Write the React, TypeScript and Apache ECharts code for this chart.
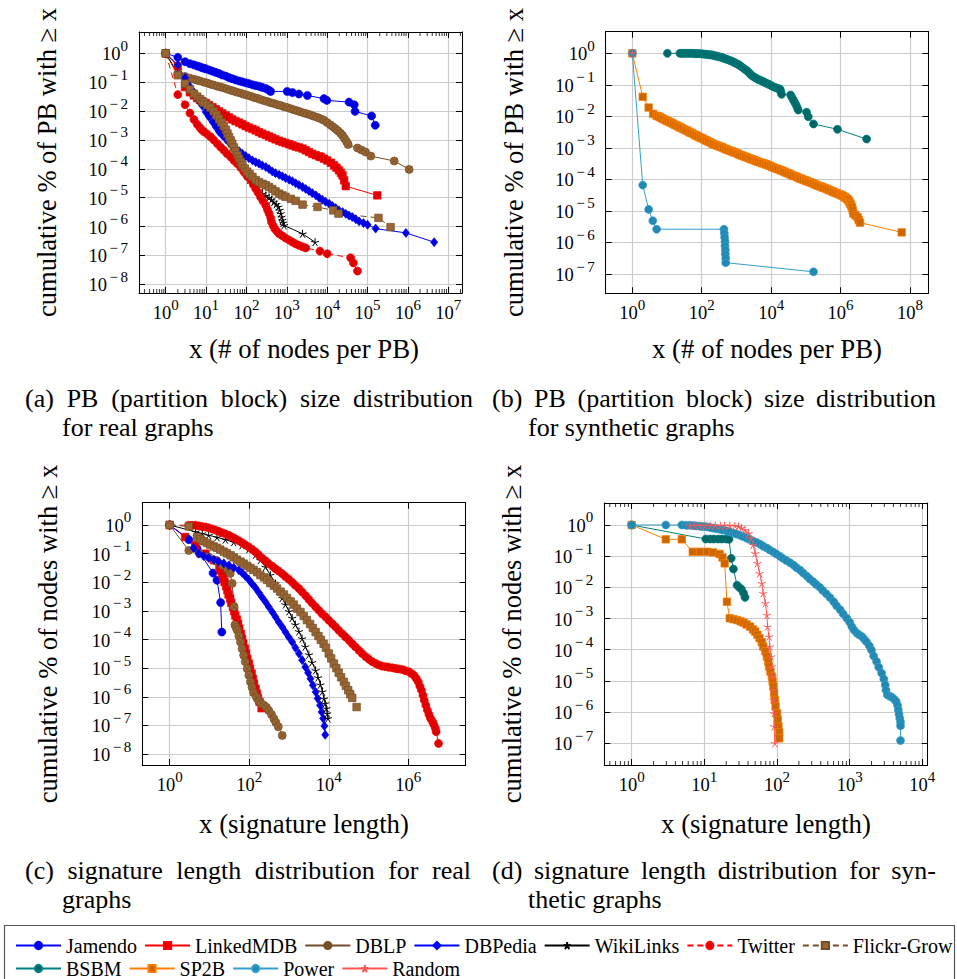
import React, { useEffect, useRef } from 'react';
import * as echarts from 'echarts';

// All points are [log10(x), log10(cumulative share)].

// ---- (a) PB size distribution, real graphs ----
const jamendoPB: number[][] = [[0,0],[0.30,-0.14],[0.48,-0.29],[0.60,-0.36],[0.70,-0.40],[0.78,-0.44],[0.85,-0.47],[0.90,-0.50],[0.95,-0.52],[1.00,-0.54],[1.08,-0.58],[1.16,-0.62],[1.24,-0.66],[1.32,-0.70],[1.40,-0.75],[1.49,-0.79],[1.57,-0.84],[1.65,-0.88],[1.73,-0.92],[1.82,-0.96],[1.90,-0.99],[1.98,-1.02],[2.06,-1.05],[2.15,-1.09],[2.23,-1.12],[2.31,-1.14],[2.39,-1.18],[2.48,-1.22],[2.55,-1.27],[2.60,-1.32],[3.01,-1.32],[3.14,-1.36],[3.30,-1.41],[3.51,-1.46],[3.92,-1.57],[3.99,-1.63],[4.54,-1.69],[4.67,-1.78],[4.69,-2.01],[5.10,-2.17],[5.19,-2.49]];
const linkedmdbPB: number[][] = [[0,0],[0.30,-0.45],[0.48,-1.17],[0.60,-1.35],[0.70,-1.46],[0.78,-1.55],[0.85,-1.61],[0.90,-1.66],[0.99,-1.72],[1.07,-1.79],[1.16,-1.87],[1.24,-1.94],[1.32,-2.01],[1.40,-2.08],[1.49,-2.15],[1.57,-2.22],[1.65,-2.29],[1.73,-2.35],[1.82,-2.40],[1.90,-2.46],[1.98,-2.52],[2.06,-2.57],[2.15,-2.62],[2.23,-2.67],[2.31,-2.73],[2.39,-2.78],[2.48,-2.83],[2.56,-2.88],[2.64,-2.93],[2.72,-2.98],[2.81,-3.03],[2.89,-3.07],[2.97,-3.11],[3.06,-3.15],[3.14,-3.19],[3.22,-3.23],[3.30,-3.26],[3.39,-3.30],[3.47,-3.36],[3.55,-3.42],[3.63,-3.48],[3.72,-3.53],[3.80,-3.57],[3.84,-3.59],[3.92,-3.65],[4.00,-3.71],[4.09,-3.79],[4.17,-3.88],[4.23,-3.96],[4.29,-4.05],[4.34,-4.14],[4.38,-4.23],[4.42,-4.40],[4.46,-4.60],[5.24,-4.92]];
const dblpPB: number[][] = [[0,0],[0.30,-0.74],[0.48,-0.80],[0.60,-0.86],[0.70,-0.90],[0.78,-0.93],[0.85,-0.96],[0.95,-1.00],[1.03,-1.03],[1.11,-1.07],[1.19,-1.10],[1.28,-1.14],[1.36,-1.17],[1.44,-1.20],[1.52,-1.24],[1.61,-1.28],[1.69,-1.31],[1.77,-1.35],[1.86,-1.38],[1.94,-1.42],[2.02,-1.45],[2.11,-1.49],[2.19,-1.53],[2.27,-1.56],[2.35,-1.60],[2.44,-1.64],[2.52,-1.67],[2.60,-1.71],[2.68,-1.74],[2.77,-1.78],[2.85,-1.81],[2.93,-1.85],[3.01,-1.88],[3.10,-1.92],[3.18,-1.96],[3.26,-1.99],[3.34,-2.03],[3.43,-2.07],[3.51,-2.10],[3.59,-2.14],[3.67,-2.18],[3.76,-2.22],[3.84,-2.27],[3.92,-2.32],[4.00,-2.40],[4.08,-2.48],[4.15,-2.55],[4.21,-2.62],[4.27,-2.69],[4.33,-2.77],[4.38,-2.85],[4.43,-2.95],[4.48,-3.06],[4.52,-3.16],[4.75,-3.28],[4.85,-3.35],[4.95,-3.42],[5.08,-3.56],[5.66,-3.73],[6.03,-4.02]];
const dbpediaPB: number[][] = [[0,0],[0.30,-0.40],[0.48,-0.85],[0.60,-1.15],[0.70,-1.35],[0.78,-1.55],[0.85,-1.70],[0.91,-1.82],[0.99,-2.03],[1.07,-2.20],[1.16,-2.38],[1.24,-2.55],[1.32,-2.72],[1.40,-2.84],[1.49,-2.97],[1.57,-3.09],[1.65,-3.19],[1.73,-3.29],[1.82,-3.39],[1.90,-3.48],[1.98,-3.56],[2.06,-3.63],[2.15,-3.71],[2.23,-3.77],[2.31,-3.82],[2.39,-3.88],[2.48,-3.94],[2.56,-4.01],[2.64,-4.09],[2.72,-4.15],[2.81,-4.21],[2.89,-4.26],[2.97,-4.32],[3.06,-4.38],[3.14,-4.43],[3.22,-4.50],[3.30,-4.56],[3.39,-4.63],[3.47,-4.70],[3.55,-4.77],[3.63,-4.84],[3.72,-4.92],[3.80,-5.00],[3.88,-5.07],[3.96,-5.14],[4.05,-5.21],[4.13,-5.29],[4.21,-5.36],[4.29,-5.44],[4.38,-5.50],[4.46,-5.56],[4.54,-5.62],[4.62,-5.67],[4.71,-5.75],[4.79,-5.82],[4.90,-5.88],[5.00,-5.94],[5.20,-6.07],[5.95,-6.22],[6.65,-6.54]];
const wikilinksPB: number[][] = [[0,0],[0.30,-0.70],[0.48,-1.05],[0.60,-1.25],[0.70,-1.40],[0.78,-1.52],[0.85,-1.62],[0.95,-1.76],[1.03,-1.85],[1.11,-1.95],[1.19,-2.07],[1.26,-2.20],[1.32,-2.33],[1.38,-2.46],[1.44,-2.60],[1.49,-2.73],[1.53,-2.86],[1.57,-2.98],[1.61,-3.10],[1.65,-3.22],[1.69,-3.35],[1.73,-3.48],[1.78,-3.62],[1.82,-3.75],[1.86,-3.88],[1.90,-4.00],[1.96,-4.12],[2.02,-4.25],[2.08,-4.38],[2.15,-4.50],[2.23,-4.63],[2.31,-4.75],[2.40,-4.86],[2.48,-4.93],[2.56,-5.00],[2.62,-5.07],[2.68,-5.15],[2.74,-5.23],[2.79,-5.32],[2.82,-5.43],[2.85,-5.55],[2.87,-5.67],[2.89,-5.78],[2.91,-5.87],[2.93,-5.96],[3.39,-6.25],[3.70,-6.54]];
const twitterPB: number[][] = [[0,0],[0.30,-1.43],[0.48,-1.78],[0.60,-2.07],[0.70,-2.29],[0.78,-2.46],[0.85,-2.58],[0.90,-2.66],[0.95,-2.72],[1.03,-2.80],[1.11,-2.89],[1.19,-3.00],[1.28,-3.13],[1.36,-3.25],[1.44,-3.36],[1.52,-3.48],[1.61,-3.59],[1.69,-3.71],[1.77,-3.82],[1.86,-3.96],[1.94,-4.11],[2.02,-4.26],[2.11,-4.40],[2.17,-4.54],[2.23,-4.69],[2.29,-4.83],[2.35,-4.98],[2.41,-5.12],[2.48,-5.27],[2.52,-5.41],[2.56,-5.55],[2.60,-5.70],[2.62,-5.84],[2.66,-5.96],[2.70,-6.07],[2.75,-6.16],[2.81,-6.25],[2.89,-6.32],[2.97,-6.40],[3.06,-6.47],[3.14,-6.54],[3.22,-6.60],[3.30,-6.65],[3.39,-6.70],[3.47,-6.74],[3.82,-6.85],[4.00,-6.94],[4.58,-7.08],[4.65,-7.26],[4.75,-7.54]];
const flickrPB: number[][] = [[0,0],[0.30,-0.76],[0.48,-1.05],[0.60,-1.25],[0.70,-1.40],[0.78,-1.50],[0.85,-1.59],[0.90,-1.66],[0.95,-1.71],[1.03,-1.79],[1.11,-1.88],[1.19,-2.00],[1.26,-2.13],[1.32,-2.26],[1.38,-2.39],[1.44,-2.52],[1.49,-2.65],[1.53,-2.78],[1.57,-2.90],[1.61,-3.02],[1.65,-3.13],[1.69,-3.26],[1.73,-3.39],[1.78,-3.53],[1.82,-3.65],[1.86,-3.77],[1.90,-3.88],[1.96,-3.99],[2.02,-4.10],[2.08,-4.19],[2.15,-4.28],[2.23,-4.39],[2.31,-4.46],[2.40,-4.52],[2.48,-4.57],[2.56,-4.63],[2.64,-4.70],[2.72,-4.78],[2.81,-4.86],[2.89,-4.92],[2.97,-4.97],[3.10,-5.04],[3.22,-5.11],[3.39,-5.24],[3.76,-5.32],[4.15,-5.44],[4.28,-5.55],[5.27,-5.70],[5.57,-6.02]];

// ---- (b) PB size distribution, synthetic graphs ----
const bsbmPB: number[][] = [[1.01,0],[1.37,0],[1.42,0],[1.47,0],[1.52,0],[1.57,0],[1.61,0],[1.66,0],[1.71,0],[1.76,0],[1.81,-0.01],[1.85,-0.01],[1.90,-0.01],[1.95,-0.01],[2.00,-0.02],[2.05,-0.02],[2.10,-0.03],[2.14,-0.03],[2.19,-0.04],[2.24,-0.05],[2.29,-0.05],[2.33,-0.06],[2.38,-0.08],[2.43,-0.09],[2.48,-0.10],[2.53,-0.12],[2.58,-0.13],[2.62,-0.15],[2.67,-0.17],[2.72,-0.19],[2.77,-0.21],[2.82,-0.23],[2.87,-0.25],[2.91,-0.28],[2.96,-0.30],[3.01,-0.33],[3.06,-0.36],[3.10,-0.39],[3.15,-0.43],[3.20,-0.47],[3.25,-0.51],[3.30,-0.55],[3.35,-0.60],[3.39,-0.65],[3.44,-0.70],[3.49,-0.74],[3.54,-0.77],[3.58,-0.80],[3.63,-0.83],[3.68,-0.85],[3.73,-0.88],[3.78,-0.90],[3.82,-0.93],[3.87,-0.95],[3.92,-0.98],[3.97,-1.00],[4.01,-1.03],[4.06,-1.06],[4.11,-1.08],[4.16,-1.10],[4.21,-1.12],[4.26,-1.14],[4.28,-1.22],[4.30,-1.30],[4.56,-1.32],[4.60,-1.40],[4.64,-1.48],[4.68,-1.56],[4.72,-1.64],[4.75,-1.72],[4.78,-1.80],[5.02,-1.87],[5.07,-2.01],[5.22,-2.24],[5.91,-2.41],[6.75,-2.72]];
const sp2bPB: number[][] = [[0,0],[0.30,-1.38],[0.47,-1.72],[0.60,-1.92],[0.70,-1.98],[0.75,-2.00],[0.80,-2.03],[0.85,-2.06],[0.89,-2.08],[0.94,-2.11],[0.99,-2.14],[1.04,-2.16],[1.09,-2.19],[1.14,-2.21],[1.18,-2.24],[1.23,-2.27],[1.28,-2.29],[1.33,-2.32],[1.37,-2.35],[1.42,-2.37],[1.47,-2.40],[1.52,-2.43],[1.57,-2.45],[1.62,-2.48],[1.66,-2.51],[1.71,-2.53],[1.76,-2.56],[1.81,-2.59],[1.85,-2.61],[1.90,-2.64],[1.95,-2.67],[2.00,-2.69],[2.05,-2.72],[2.10,-2.75],[2.14,-2.77],[2.19,-2.80],[2.24,-2.82],[2.29,-2.85],[2.33,-2.88],[2.38,-2.90],[2.43,-2.92],[2.48,-2.94],[2.53,-2.96],[2.58,-2.98],[2.62,-3.00],[2.67,-3.03],[2.72,-3.05],[2.77,-3.07],[2.82,-3.09],[2.87,-3.11],[2.91,-3.13],[2.96,-3.15],[3.01,-3.17],[3.06,-3.20],[3.10,-3.22],[3.15,-3.24],[3.20,-3.26],[3.25,-3.28],[3.30,-3.30],[3.35,-3.32],[3.39,-3.34],[3.44,-3.36],[3.49,-3.38],[3.54,-3.40],[3.58,-3.42],[3.63,-3.44],[3.68,-3.46],[3.73,-3.48],[3.78,-3.49],[3.83,-3.51],[3.87,-3.53],[3.92,-3.55],[3.97,-3.57],[4.02,-3.60],[4.06,-3.62],[4.11,-3.64],[4.16,-3.66],[4.21,-3.68],[4.26,-3.70],[4.31,-3.72],[4.35,-3.74],[4.40,-3.77],[4.45,-3.79],[4.50,-3.81],[4.54,-3.83],[4.59,-3.86],[4.64,-3.88],[4.69,-3.90],[4.74,-3.92],[4.79,-3.95],[4.83,-3.97],[4.88,-3.99],[4.93,-4.01],[4.98,-4.03],[5.02,-4.05],[5.07,-4.07],[5.12,-4.09],[5.17,-4.11],[5.22,-4.13],[5.27,-4.16],[5.31,-4.18],[5.36,-4.20],[5.41,-4.22],[5.46,-4.24],[5.50,-4.26],[5.55,-4.28],[5.60,-4.30],[5.65,-4.33],[5.70,-4.35],[5.75,-4.37],[5.79,-4.39],[5.84,-4.42],[5.89,-4.44],[5.94,-4.46],[5.99,-4.48],[6.03,-4.50],[6.06,-4.52],[6.10,-4.55],[6.13,-4.57],[6.17,-4.60],[6.20,-4.63],[6.23,-4.67],[6.25,-4.71],[6.27,-4.75],[6.29,-4.79],[6.31,-4.84],[6.33,-4.89],[6.35,-4.98],[6.37,-5.08],[6.43,-5.14],[6.49,-5.20],[6.52,-5.28],[6.56,-5.37],[7.76,-5.68]];
const powerPB: number[][] = [[0,0],[0.30,-4.18],[0.47,-4.95],[0.59,-5.31],[0.70,-5.58],[2.64,-5.58],[2.65,-5.71],[2.66,-5.84],[2.67,-5.97],[2.67,-6.11],[2.68,-6.24],[2.68,-6.37],[2.69,-6.50],[2.69,-6.64],[5.22,-6.93]];
const randomPB: number[][] = [[0,0]];

// ---- (c) signature length distribution, real graphs ----
const jamendoSig: number[][] = [[0,0],[0.48,-0.51],[0.69,-0.83],[1.09,-1.68],[1.19,-1.93],[1.28,-2.71],[1.31,-3.74]];
const linkedmdbSig: number[][] = [[0,0],[0.39,-0.42],[0.65,-0.71],[0.90,-1.00],[1.11,-1.23],[1.25,-1.47],[1.28,-1.58],[1.32,-1.70],[1.35,-1.85],[1.38,-1.99],[1.42,-2.14],[1.45,-2.28],[1.48,-2.43],[1.52,-2.57],[1.55,-2.72],[1.59,-2.86],[1.62,-3.01],[1.65,-3.16],[1.69,-3.30],[1.72,-3.45],[1.75,-3.62],[1.79,-3.80],[1.82,-3.97],[1.85,-4.14],[1.89,-4.32],[1.92,-4.49],[1.95,-4.67],[1.99,-4.84],[2.02,-5.02],[2.06,-5.19],[2.09,-5.37],[2.12,-5.54],[2.16,-5.72],[2.19,-5.89],[2.22,-6.04],[2.26,-6.18],[2.31,-6.40]];
const dblpSig: number[][] = [[0,0],[0.48,-0.89],[0.75,-1.00],[0.98,-1.12],[1.15,-1.25],[1.32,-1.41],[1.45,-1.55],[1.52,-1.69],[1.57,-2.04],[1.62,-2.86],[1.64,-3.49],[1.67,-3.58],[1.70,-3.68],[1.74,-3.88],[1.78,-4.09],[1.82,-4.32],[1.86,-4.55],[1.90,-4.78],[1.95,-5.02],[1.99,-5.25],[2.03,-5.48],[2.07,-5.67],[2.11,-5.86],[2.18,-6.01],[2.24,-6.16],[2.30,-6.24],[2.37,-6.30],[2.43,-6.37],[2.49,-6.48],[2.56,-6.62],[2.62,-6.77],[2.67,-6.90],[2.73,-7.05],[2.83,-7.35]];
const dbpediaSig: number[][] = [[0,0],[0.48,-0.50],[0.60,-0.80],[0.73,-1.00],[0.85,-1.08],[0.98,-1.15],[1.11,-1.21],[1.23,-1.27],[1.36,-1.34],[1.49,-1.41],[1.61,-1.49],[1.74,-1.58],[1.82,-1.67],[1.90,-1.78],[1.99,-1.91],[2.07,-2.05],[2.16,-2.20],[2.24,-2.36],[2.32,-2.52],[2.41,-2.69],[2.49,-2.86],[2.58,-3.04],[2.66,-3.21],[2.74,-3.39],[2.83,-3.56],[2.91,-3.74],[2.99,-3.91],[3.08,-4.09],[3.16,-4.29],[3.25,-4.49],[3.33,-4.72],[3.41,-4.96],[3.48,-5.16],[3.54,-5.37],[3.60,-5.60],[3.67,-5.83],[3.72,-6.06],[3.78,-6.30],[3.82,-6.53],[3.86,-6.76],[3.89,-7.02],[3.91,-7.33]];
const wikilinksSig: number[][] = [[0,0],[0.65,-0.24],[0.82,-0.30],[0.98,-0.36],[1.19,-0.43],[1.40,-0.51],[1.61,-0.60],[1.82,-0.71],[1.99,-0.85],[2.16,-1.04],[2.28,-1.23],[2.41,-1.47],[2.53,-1.75],[2.66,-2.05],[2.74,-2.30],[2.83,-2.55],[2.91,-2.78],[3.00,-3.02],[3.08,-3.25],[3.16,-3.48],[3.25,-3.72],[3.33,-3.97],[3.41,-4.25],[3.50,-4.53],[3.58,-4.80],[3.67,-5.08],[3.73,-5.33],[3.79,-5.58],[3.84,-5.82],[3.88,-6.07],[3.91,-6.24],[3.94,-6.41],[3.96,-6.59],[3.98,-6.76]];
const twitterSig: number[][] = [[0,0],[0.48,-0.01],[0.56,-0.01],[0.65,-0.01],[0.73,-0.03],[0.81,-0.05],[0.90,-0.07],[0.98,-0.10],[1.07,-0.14],[1.15,-0.18],[1.23,-0.22],[1.32,-0.27],[1.40,-0.31],[1.49,-0.36],[1.57,-0.42],[1.65,-0.48],[1.74,-0.55],[1.82,-0.62],[1.90,-0.69],[1.99,-0.77],[2.07,-0.85],[2.16,-0.94],[2.24,-1.05],[2.32,-1.15],[2.41,-1.25],[2.49,-1.35],[2.58,-1.44],[2.66,-1.53],[2.74,-1.61],[2.83,-1.70],[2.91,-1.80],[3.00,-1.90],[3.08,-2.00],[3.16,-2.11],[3.25,-2.22],[3.33,-2.34],[3.42,-2.47],[3.50,-2.60],[3.58,-2.73],[3.67,-2.86],[3.75,-2.98],[3.83,-3.10],[3.92,-3.21],[4.00,-3.33],[4.09,-3.45],[4.17,-3.56],[4.25,-3.68],[4.34,-3.80],[4.42,-3.91],[4.51,-4.03],[4.59,-4.15],[4.67,-4.26],[4.76,-4.38],[4.84,-4.49],[4.93,-4.60],[5.01,-4.69],[5.09,-4.77],[5.18,-4.84],[5.26,-4.89],[5.34,-4.93],[5.43,-4.95],[5.51,-4.97],[5.60,-4.99],[5.68,-5.01],[5.76,-5.03],[5.85,-5.05],[5.93,-5.09],[6.02,-5.13],[6.08,-5.19],[6.14,-5.25],[6.20,-5.36],[6.25,-5.48],[6.29,-5.63],[6.33,-5.77],[6.37,-5.95],[6.40,-6.12],[6.44,-6.30],[6.48,-6.47],[6.52,-6.62],[6.56,-6.76],[6.61,-6.87],[6.64,-6.97],[6.68,-7.10],[6.70,-7.22],[6.76,-7.63]];
const flickrSig: number[][] = [[0,0],[0.48,-0.05],[0.69,-0.42],[0.77,-0.50],[0.86,-0.57],[0.94,-0.63],[1.02,-0.69],[1.11,-0.75],[1.19,-0.80],[1.27,-0.86],[1.36,-0.93],[1.44,-0.99],[1.53,-1.06],[1.61,-1.13],[1.69,-1.21],[1.78,-1.28],[1.86,-1.35],[1.95,-1.43],[2.03,-1.50],[2.11,-1.57],[2.20,-1.65],[2.28,-1.75],[2.37,-1.83],[2.45,-1.92],[2.53,-2.03],[2.62,-2.12],[2.70,-2.22],[2.79,-2.33],[2.87,-2.43],[2.95,-2.55],[3.04,-2.67],[3.12,-2.78],[3.20,-2.92],[3.29,-3.04],[3.37,-3.18],[3.45,-3.32],[3.53,-3.46],[3.60,-3.60],[3.67,-3.74],[3.74,-3.88],[3.80,-4.01],[3.87,-4.15],[3.93,-4.29],[4.00,-4.49],[4.06,-4.66],[4.13,-4.84],[4.19,-5.00],[4.25,-5.16],[4.31,-5.32],[4.38,-5.48],[4.43,-5.62],[4.49,-5.77],[4.54,-5.91],[4.59,-6.04],[4.70,-6.36]];

// ---- (d) signature length distribution, synthetic graphs ----
const bsbmSig: number[][] = [[0,0],[1.02,-0.45],[1.08,-0.45],[1.13,-0.45],[1.19,-0.45],[1.24,-0.45],[1.30,-0.45],[1.34,-0.46],[1.37,-1.07],[1.40,-1.41],[1.45,-1.93],[1.48,-2.00],[1.51,-2.06],[1.54,-2.19],[1.56,-2.32]];
const sp2bSig: number[][] = [[0,0],[0.47,-0.46],[0.69,-0.46],[0.84,-0.86],[0.94,-0.86],[1.04,-0.86],[1.12,-0.88],[1.21,-0.93],[1.25,-1.04],[1.28,-1.23],[1.31,-2.46],[1.35,-2.99],[1.40,-3.02],[1.45,-3.05],[1.50,-3.09],[1.54,-3.13],[1.58,-3.19],[1.63,-3.26],[1.67,-3.35],[1.70,-3.42],[1.73,-3.52],[1.76,-3.63],[1.79,-3.76],[1.81,-3.90],[1.84,-4.05],[1.86,-4.22],[1.88,-4.38],[1.89,-4.54],[1.91,-4.70],[1.93,-4.86],[1.94,-5.02],[1.95,-5.18],[1.96,-5.40],[1.97,-5.61],[1.98,-5.82],[2.00,-6.04],[2.01,-6.25],[2.02,-6.46],[2.03,-6.65],[2.03,-6.84]];
const powerSig: number[][] = [[0,0],[0.47,0],[0.69,0],[0.75,-0.01],[0.80,-0.01],[0.85,-0.02],[0.89,-0.03],[0.94,-0.04],[0.98,-0.05],[1.03,-0.06],[1.08,-0.08],[1.12,-0.10],[1.17,-0.12],[1.22,-0.14],[1.26,-0.16],[1.31,-0.19],[1.35,-0.22],[1.40,-0.26],[1.44,-0.29],[1.49,-0.33],[1.53,-0.37],[1.58,-0.42],[1.62,-0.46],[1.67,-0.51],[1.72,-0.56],[1.77,-0.62],[1.81,-0.68],[1.86,-0.74],[1.90,-0.80],[1.95,-0.87],[1.99,-0.93],[2.04,-1.00],[2.08,-1.07],[2.13,-1.14],[2.18,-1.21],[2.23,-1.29],[2.27,-1.37],[2.32,-1.45],[2.36,-1.54],[2.41,-1.64],[2.45,-1.73],[2.50,-1.82],[2.54,-1.91],[2.59,-2.00],[2.63,-2.10],[2.68,-2.21],[2.73,-2.33],[2.78,-2.46],[2.82,-2.59],[2.87,-2.72],[2.91,-2.85],[2.96,-2.99],[3.00,-3.12],[3.03,-3.26],[3.06,-3.37],[3.10,-3.47],[3.13,-3.52],[3.17,-3.58],[3.20,-3.66],[3.23,-3.74],[3.27,-3.87],[3.30,-4.01],[3.33,-4.20],[3.37,-4.38],[3.40,-4.56],[3.44,-4.75],[3.47,-4.94],[3.49,-5.13],[3.50,-5.30],[3.52,-5.45],[3.55,-5.49],[3.58,-5.52],[3.61,-5.58],[3.64,-5.66],[3.66,-5.79],[3.67,-5.93],[3.68,-6.07],[3.69,-6.20],[3.70,-6.32],[3.70,-6.44],[3.70,-6.91]];
const randomSig: number[][] = [[0.80,-0.02],[0.87,-0.02],[0.94,-0.02],[1.01,-0.02],[1.08,-0.02],[1.15,-0.02],[1.22,-0.02],[1.28,-0.02],[1.35,-0.02],[1.42,-0.03],[1.47,-0.05],[1.51,-0.10],[1.56,-0.16],[1.61,-0.27],[1.64,-0.43],[1.67,-0.64],[1.70,-0.91],[1.73,-1.23],[1.76,-1.55],[1.79,-1.87],[1.81,-2.19],[1.84,-2.51],[1.86,-2.89],[1.87,-3.26],[1.89,-3.58],[1.90,-3.90],[1.92,-4.22],[1.93,-4.54],[1.94,-4.86],[1.95,-5.29],[1.95,-5.61],[1.96,-6.04],[1.96,-6.46],[1.97,-7.00]];

const realNames = ['Jamendo', 'LinkedMDB', 'DBLP', 'DBPedia', 'WikiLinks', 'Twitter', 'Flickr-Grow'];
const synthNames = ['BSBM', 'SP2B', 'Power', 'Random'];
const realPB = [jamendoPB, linkedmdbPB, dblpPB, dbpediaPB, wikilinksPB, twitterPB, flickrPB];
const realSig = [jamendoSig, linkedmdbSig, dblpSig, dbpediaSig, wikilinksSig, twitterSig, flickrSig];
const synthPB = [bsbmPB, sp2bPB, powerPB, randomPB];
const synthSig = [bsbmSig, sp2bSig, powerSig, randomSig];

// caption lines (justified in the reference)
const captionLines = [
  { text: '(a) PB (partition block) size distribution', x0: 25, x1: 473, y: 398.3, justify: true },
  { text: 'for real graphs', x0: 62, x1: 0, y: 427.1, justify: false },
  { text: '(b) PB (partition block) size distribution', x0: 492, x1: 936, y: 398.3, justify: true },
  { text: 'for synthetic graphs', x0: 528, x1: 0, y: 427.1, justify: false },
  { text: '(c) signature length distribution for real', x0: 25, x1: 471, y: 870.3, justify: true },
  { text: 'graphs', x0: 62, x1: 0, y: 899.1, justify: false },
  { text: '(d) signature length distribution for syn-', x0: 492, x1: 936, y: 870.3, justify: true },
  { text: 'thetic graphs', x0: 528, x1: 0, y: 899.1, justify: false },
];

const FONT = 'Liberation Serif';
const OTIMES = 'path://M1,0A1,1,0,1,1,-1,0A1,1,0,1,1,1,0ZM-0.707,-0.707L0.707,0.707M-0.707,0.707L0.707,-0.707';
const STAR = 'path://M0,0L0,-1M0,0L-0.951,-0.309M0,0L-0.588,0.809M0,0L0.588,0.809M0,0L0.951,-0.309';

type St = { line: string; fill: string; symbol: string; size: number | number[]; dashed?: boolean; star?: boolean };
const STYLES: Record<string, St> = {
  Jamendo: { line: '#0000ff', fill: '#0000dd', symbol: 'circle', size: 8 },
  LinkedMDB: { line: '#ff0000', fill: '#dd0000', symbol: 'rect', size: 7.5 },
  DBLP: { line: '#734d26', fill: '#996633', symbol: OTIMES, size: 8 },
  DBPedia: { line: '#0000ff', fill: '#0000dd', symbol: 'diamond', size: [7, 9] },
  WikiLinks: { line: '#000000', fill: '#000000', symbol: STAR, size: 8, star: true },
  Twitter: { line: '#ff0000', fill: '#dd0000', symbol: 'circle', size: 8, dashed: true },
  'Flickr-Grow': { line: '#734d26', fill: '#996633', symbol: 'rect', size: 7.5, dashed: true },
  BSBM: { line: '#008080', fill: '#006666', symbol: 'circle', size: 8 },
  SP2B: { line: '#ff8000', fill: '#cc6600', symbol: 'rect', size: 7.5 },
  Power: { line: '#33a0cc', fill: '#2388b2', symbol: 'circle', size: 8 },
  Random: { line: '#ff5555', fill: '#ff5555', symbol: STAR, size: 8, star: true },
};

// panel layout: grid box in px and axis ranges (log10 units)
const PANELS = [
  { left: 139, top: 32, width: 323, height: 261, x: [-0.661, 7.339], y: [-8.301, 0.738], xStep: 1, minor: true },
  { left: 605.7, top: 31.7, width: 322.6, height: 261.6, x: [-0.767, 8.527], y: [-7.612, 0.686], xStep: 2, minor: false },
  { left: 142.3, top: 502.7, width: 323.4, height: 262.3, x: [-0.689, 7.443], y: [-8.384, 0.779], xStep: 2, minor: false },
  { left: 604.3, top: 503, width: 323.4, height: 262, x: [-0.377, 4.074], y: [-7.696, 0.705], xStep: 1, minor: true },
];

const expLabel = (v: number) => {
  const r = Math.round(v);
  if (Math.abs(v - r) > 1e-6) return '';
  return r < 0 ? `{b|10}{m|\u2212}{e|${-r}}` : `{b|10}{e|${r}}`;
};
const rich = {
  b: { fontFamily: FONT, fontSize: 18.5, color: '#000', padding: [6.5, 0, 4.5, 0] },
  e: { fontFamily: FONT, fontSize: 15, color: '#000', verticalAlign: 'top' },
  m: { fontFamily: FONT, fontSize: 15, color: '#000', verticalAlign: 'top', padding: [0, 2.5, 0, 2.5] },
};

function minorTicks(min: number, max: number) {
  const out: number[][] = [];
  for (let d = Math.floor(min); d <= Math.ceil(max); d++) {
    for (let k = 2; k <= 9; k++) {
      const v = d + Math.log10(k);
      if (v > min && v < max) out.push([v, 0]);
    }
  }
  return out;
}

function captionGraphics(size: number) {
  const ctx = document.createElement('canvas').getContext('2d');
  const font = `${size}px ${FONT}`;
  const out: any[] = [];
  const txt = (text: string, x: number, y: number) => ({
    type: 'text', x, y, silent: true,
    style: { text, fontFamily: FONT, fontSize: size, fill: '#000', align: 'left', verticalAlign: 'middle' },
  });
  captionLines.forEach((c) => {
    if (!c.justify || !ctx) { out.push(txt(c.text, c.x0, c.y)); return; }
    ctx.font = font;
    const words = c.text.split(' ');
    const widths = words.map((w) => ctx.measureText(w).width);
    const total = widths.reduce((a, b) => a + b, 0);
    const gap = (c.x1 - c.x0 - total) / (words.length - 1);
    let x = c.x0;
    words.forEach((w, i) => { out.push(txt(w, x, c.y)); x += widths[i] + gap; });
  });
  return out;
}

function buildOption() {
  const grid: any[] = [];
  const xAxis: any[] = [];
  const yAxis: any[] = [];
  const series: any[] = [];
  const tick = { show: true, inside: true, length: 6, lineStyle: { color: '#000', width: 1 } };
  const line = { show: true, onZero: false, lineStyle: { color: '#000', width: 1 } };
  const split = { show: true, lineStyle: { color: '#cccccc', width: 1.2 } };
  const lab = { formatter: expLabel, rich, fontFamily: FONT, fontSize: 18.5, color: '#000', showMinLabel: true, showMaxLabel: true };
  PANELS.forEach((p, i) => {
    grid.push({ left: p.left, top: p.top, width: p.width, height: p.height, containLabel: false });
    const xb = { type: 'value', gridIndex: i, min: p.x[0], max: p.x[1], minInterval: p.xStep, maxInterval: p.xStep };
    const yb = { type: 'value', gridIndex: i, min: p.y[0], max: p.y[1], minInterval: 1, maxInterval: 1 };
    xAxis.push({ ...xb, position: 'bottom', axisLine: line, axisTick: tick, splitLine: split, axisLabel: { ...lab, margin: 4 } });
    xAxis.push({ ...xb, position: 'top', axisLine: line, axisTick: tick, splitLine: { show: false }, axisLabel: { show: false } });
    yAxis.push({ ...yb, position: 'left', axisLine: line, axisTick: tick, splitLine: split, axisLabel: { ...lab, margin: 11 } });
    yAxis.push({ ...yb, position: 'right', axisLine: line, axisTick: tick, splitLine: { show: false }, axisLabel: { show: false } });
    if (p.minor) {
      series.push({
        type: 'custom', xAxisIndex: 2 * i, yAxisIndex: 2 * i, silent: true, z: 1,
        data: minorTicks(p.x[0], p.x[1]),
        renderItem: (params: any, api: any) => {
          const cs = params.coordSys;
          const x = api.coord([api.value(0), 0])[0];
          const st = { stroke: '#000', lineWidth: 0.8 };
          return { type: 'group', children: [
            { type: 'line', shape: { x1: x, y1: cs.y + cs.height, x2: x, y2: cs.y + cs.height - 4 }, style: st },
            { type: 'line', shape: { x1: x, y1: cs.y, x2: x, y2: cs.y + 4 }, style: st },
          ] };
        },
      });
    }
  });
  const addSeries = (names: string[], datas: number[][][], gi: number) => {
    names.forEach((n, k) => {
      const s = STYLES[n];
      series.push({
        type: 'line', name: n, xAxisIndex: 2 * gi, yAxisIndex: 2 * gi, data: datas[k],
        symbol: s.symbol, symbolSize: s.size, showSymbol: true, z: 2,
        lineStyle: { color: s.line, width: 1, type: s.dashed ? [6, 4] : 'solid' },
        itemStyle: { color: s.fill, borderColor: s.line, borderWidth: s.star ? 1 : 0.7 },
        emphasis: { disabled: true },
      });
    });
  };
  addSeries(realNames, realPB, 0);
  addSeries(synthNames, synthPB, 1);
  addSeries(realNames, realSig, 2);
  addSeries(synthNames, synthSig, 3);

  const legendCommon = {
    orient: 'horizontal', left: 15, right: 0, padding: 0, itemGap: 7, itemWidth: 45, itemHeight: 9,
    selectedMode: false, textStyle: { fontFamily: FONT, fontSize: 20, color: '#000', lineHeight: 17 },
  };
  const t = (text: string, x: number, y: number, size: number, extra: any = {}) => ({
    type: 'text', x, y, silent: true, ...extra,
    style: { text, fontFamily: FONT, fontSize: size, fill: '#000', align: 'center', verticalAlign: 'middle' },
  });
  const rot = { rotation: Math.PI / 2 };
  const graphic = [
    t('cumulative % of PB with \u2265 x', 46.5, 162.5, 26.5, rot),
    t('cumulative % of PB with \u2265 x', 514, 162.5, 26.5, rot),
    t('cumulative % of nodes with \u2265 x', 47.5, 634, 26.5, rot),
    t('cumulative % of nodes with \u2265 x', 512, 634, 26.5, rot),
    t('x (# of nodes per PB)', 304, 349, 26.8),
    t('x (# of nodes per PB)', 767, 349, 26.8),
    t('x (signature length)', 304, 824, 26.8),
    t('x (signature length)', 766, 824, 26.8),
    ...captionGraphics(26),
    { type: 'rect', silent: true, shape: { x: 4.5, y: 925.5, width: 950, height: 70 }, style: { fill: 'none', stroke: '#555', lineWidth: 1.2 } },
  ];
  return {
    animation: false,
    backgroundColor: '#fff',
    textStyle: { fontFamily: FONT },
    grid, xAxis, yAxis, series, graphic,
    legend: [
      { ...legendCommon, top: 935.5, data: realNames },
      { ...legendCommon, top: 958.5, data: synthNames },
    ],
  };
}

export default function App() {
  const ref = useRef<HTMLDivElement>(null);
  useEffect(() => {
    document.body.style.margin = '0';
    const chart = echarts.init(ref.current!, undefined, { renderer: 'svg' });
    chart.setOption(buildOption() as any);
    return () => chart.dispose();
  }, []);
  return <div ref={ref} style={{ width: 957, height: 979 }} />;
}
